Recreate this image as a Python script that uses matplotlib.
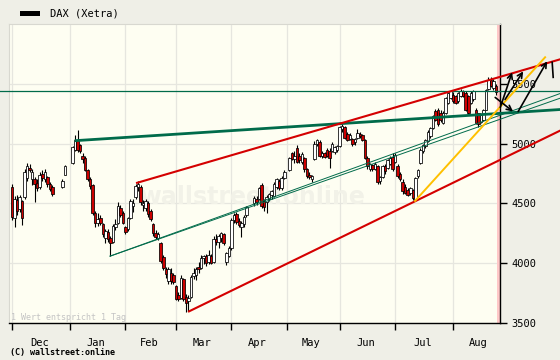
import numpy as np
import pandas as pd
import matplotlib
matplotlib.use("Agg")
import matplotlib.pyplot as plt
from matplotlib.patches import Rectangle

### DATA

first_day = "2008-12-01"
last_day = "2009-08-26"
# exchange holidays (weekdays without a candle, the slot stays empty)
holidays = ["2008-12-24", "2008-12-25", "2008-12-26", "2008-12-31",
            "2009-01-01", "2009-04-10", "2009-04-13", "2009-05-01"]

# daily OHLC, one line per month
opens = [
    4640, 4380, 4530, 4450, 4520, 4550, 4710, 4800, 4700, 4700, 4670, 4640, 4750, 4700, 4720, 4660, 4640, 4640, 4740,
    4840, 4950, 5030, 4990, 4900, 4880, 4780, 4700, 4650, 4420, 4340, 4380, 4330, 4210, 4260, 4210, 4180, 4300, 4340, 4460, 4420,
    4300, 4290, 4380, 4480, 4550, 4640, 4640, 4490, 4460, 4500, 4440, 4330, 4250, 4210, 4170, 4050, 3950, 3850, 3920, 3900,
    3810, 3730, 3710, 3870, 3720, 3680, 3720, 3890, 3900, 3970, 3960, 4040, 4060, 4010, 4060, 4010, 4200, 4180, 4210, 4240, 4010, 4060,
    4130, 4360, 4410, 4350, 4300, 4330, 4400, 4500, 4540, 4540, 4650, 4520, 4510, 4540, 4570, 4560, 4640, 4690, 4630, 4715,
    4780, 4920, 4870, 4960, 4900, 4850, 4880, 4790, 4740, 4700, 4870, 5000, 5010, 4900, 4920, 4950, 4940, 4940, 4930, 4950,
    4980, 5120, 5140, 5080, 5040, 5040, 5010, 5050, 5080, 5070, 5030, 4880, 4790, 4820, 4790, 4810, 4690, 4720, 4810, 4800, 4830, 4890,
    4850, 4810, 4750, 4680, 4640, 4610, 4585, 4610, 4530, 4725, 4840, 4935, 4980, 5020, 5060, 5130, 5270, 5285, 5260, 5175, 5260, 5340, 5385,
    5410, 5400, 5355, 5400, 5440, 5425, 5400, 5340, 5370, 5285, 5255, 5180, 5200, 5285, 5455, 5535, 5465, 5480,
]
highs = [
    4665, 4560, 4570, 4570, 4530, 4790, 4840, 4830, 4790, 4720, 4700, 4760, 4780, 4790, 4730, 4680, 4650, 4700, 4820,
    4980, 5070, 5110, 5000, 4920, 4900, 4790, 4720, 4660, 4440, 4420, 4400, 4340, 4290, 4290, 4230, 4330, 4370, 4510, 4490, 4440,
    4310, 4390, 4540, 4540, 4660, 4690, 4650, 4530, 4540, 4520, 4450, 4340, 4280, 4260, 4180, 4070, 3970, 3970, 3960, 3920,
    3820, 3760, 3900, 3880, 3740, 3730, 3900, 3960, 3970, 4010, 4070, 4070, 4080, 4110, 4080, 4230, 4240, 4240, 4260, 4250, 4095, 4140,
    4380, 4420, 4430, 4380, 4350, 4400, 4480, 4560, 4560, 4640, 4670, 4540, 4570, 4590, 4610, 4680, 4710, 4700, 4730, 4780,
    4890, 4930, 4940, 4990, 4920, 4930, 4890, 4800, 4760, 4740, 5020, 5040, 5030, 4940, 4930, 4960, 4960, 5010, 4980, 4990,
    5150, 5160, 5150, 5100, 5090, 5050, 5050, 5120, 5100, 5080, 5040, 4900, 4840, 4830, 4850, 4820, 4730, 4820, 4830, 4870, 4900, 4920,
    4920, 4830, 4760, 4700, 4660, 4630, 4640, 4620, 4720, 4790, 4960, 5000, 5040, 5110, 5140, 5240, 5290, 5300, 5280, 5270, 5390, 5430, 5450,
    5430, 5410, 5430, 5460, 5450, 5440, 5410, 5440, 5450, 5300, 5260, 5250, 5290, 5460, 5560, 5560, 5540, 5500,
]
lows = [
    4360, 4300, 4400, 4430, 4320, 4540, 4690, 4760, 4650, 4510, 4600, 4620, 4690, 4680, 4640, 4600, 4560, 4630, 4735,
    4830, 4940, 4930, 4920, 4840, 4770, 4690, 4620, 4400, 4300, 4310, 4320, 4220, 4170, 4180, 4060, 4170, 4280, 4330, 4390, 4330,
    4240, 4270, 4370, 4430, 4540, 4600, 4490, 4440, 4440, 4390, 4350, 4230, 4200, 4190, 4000, 3940, 3880, 3830, 3830, 3830,
    3690, 3680, 3700, 3680, 3590, 3600, 3710, 3870, 3860, 3920, 3950, 3990, 3980, 3990, 3990, 4000, 4150, 4130, 4180, 4150, 3985, 4050,
    4110, 4340, 4330, 4300, 4220, 4300, 4390, 4480, 4490, 4530, 4460, 4440, 4420, 4520, 4540, 4550, 4620, 4610, 4610, 4700,
    4770, 4860, 4840, 4840, 4840, 4830, 4760, 4710, 4700, 4680, 4860, 4980, 4890, 4880, 4880, 4890, 4800, 4930, 4910, 4930,
    4970, 5100, 5040, 5020, 5030, 4980, 4990, 5040, 5050, 5020, 4870, 4790, 4770, 4770, 4780, 4660, 4660, 4710, 4750, 4790, 4820, 4770,
    4840, 4710, 4690, 4580, 4580, 4560, 4570, 4530, 4520, 4710, 4830, 4920, 4960, 5010, 5050, 5120, 5190, 5150, 5180, 5160, 5250, 5330, 5370,
    5340, 5330, 5340, 5390, 5390, 5270, 5240, 5330, 5360, 5160, 5140, 5170, 5190, 5280, 5450, 5470, 5450, 5410,
]
closes = [
    4390, 4540, 4440, 4555, 4380, 4760, 4810, 4780, 4760, 4660, 4630, 4740, 4710, 4760, 4660, 4620, 4580, 4690, 4810,
    4970, 5030, 4950, 4937, 4872, 4783, 4705, 4645, 4422, 4336, 4367, 4334, 4241, 4270, 4200, 4170, 4310, 4330, 4480, 4400, 4338,
    4260, 4380, 4520, 4500, 4645, 4660, 4510, 4500, 4520, 4410, 4370, 4250, 4220, 4240, 4020, 3960, 3910, 3950, 3850, 3843,
    3700, 3700, 3880, 3700, 3670, 3710, 3886, 3915, 3954, 3953, 4044, 4061, 4002, 4070, 4000, 4200, 4180, 4225, 4250, 4170, 4085, 4130,
    4360, 4400, 4345, 4320, 4340, 4390, 4470, 4545, 4510, 4625, 4480, 4470, 4550, 4575, 4600, 4665, 4700, 4630, 4715, 4760,
    4880, 4870, 4900, 4850, 4860, 4910, 4790, 4725, 4720, 4730, 5000, 5030, 4900, 4920, 4890, 4900, 4880, 5000, 4970, 4980,
    5140, 5145, 5050, 5030, 5070, 5000, 5040, 5085, 5060, 5030, 4880, 4810, 4830, 4790, 4830, 4680, 4720, 4810, 4770, 4860, 4880, 4790,
    4905, 4725, 4700, 4600, 4590, 4570, 4625, 4545, 4710, 4780, 4950, 4990, 5030, 5100, 5130, 5230, 5200, 5160, 5200, 5255, 5380, 5420, 5440,
    5355, 5340, 5420, 5440, 5400, 5285, 5260, 5425, 5440, 5175, 5160, 5240, 5280, 5450, 5535, 5480, 5520, 5430,
]

months = ["Dec", "Jan", "Feb", "Mar", "Apr", "May", "Jun", "Jul", "Aug"]
price_ticks = [3500, 4000, 4500, 5000, 5500]

# drawn-in trend lines, x in weekday slots from 1 Dec, y in index points
green_thick = ([25.4, 217.5], [5025, 5285])
red_upper = ([49.6, 217.5], [4672, 5705])
red_lower = ([70.2, 217.5], [3597, 5109])
green_thin_a = ([38.9, 217.5], [4059, 5419])
green_thin_b = ([38.9, 217.5], [4059, 5380])
green_level = ([-4.8, 217.5], [5437, 5437])
yellow_line = ([159.9, 211.5], [4521, 5722])
# hand drawn forecast arrows: (start, end)
arrows = [((191.7, 5386), (198.8, 5268)),
          ((193.7, 5302), (198.4, 5596)),
          ((195.6, 5369), (202.8, 5604)),
          ((200.8, 5268), (212.3, 5688))]
arrow_tail = ([214.3, 214.7], [5680, 5554])

### PLOT

plt.rcParams['font.family'] = ['DejaVu Sans Mono']

all_days = pd.bdate_range(first_day, last_day)
trade_days = all_days[~all_days.isin(pd.to_datetime(holidays))]
xpos = all_days.get_indexer(trade_days)

month_starts = [i for i, d in enumerate(all_days) if i == 0 or d.month != all_days[i - 1].month]
month_mids = [(a + b) / 2 - 0.7 for a, b in zip(month_starts, month_starts[1:] + [month_starts[-1] + 21])]

fig = plt.figure(figsize=(5.6, 3.6), dpi=100, facecolor="#efefe7")
ax = fig.add_axes([9 / 560, 37 / 360, 491 / 560, 299 / 360])
ax.set_facecolor("#fefef2")
ax.set_xlim(-1.2, 193.6)
ax.set_ylim(3500, 6000)

# watermark
ax.text(0.495, 0.42, "wallstreet:online", transform=ax.transAxes, ha="center", va="center",
        fontsize=17, color="#f2f2e8", family="DejaVu Sans", fontweight="bold", zorder=1)

ax.axvspan(192.4, 193.6, color="#ffc8c8", lw=0, zorder=1)

# candles
for x, o, h, l, c in zip(xpos, opens, highs, lows, closes):
    ax.vlines(x, l, h, color="black", lw=0.8, zorder=3)
    fc = "white" if c >= o else "#cc0000"
    ax.add_patch(Rectangle((x - 0.5, min(o, c)), 1.0, max(abs(c - o), 4),
                           fc=fc, ec="black", lw=0.55, zorder=4))

# trend lines
ax.plot(*green_level, color="#006b4a", lw=0.9, clip_on=False, zorder=5)
ax.plot(*green_thin_a, color="#006b4a", lw=0.7, clip_on=False, zorder=5)
ax.plot(*green_thin_b, color="#006b4a", lw=0.7, clip_on=False, zorder=5)
ax.plot(*green_thick, color="#006b4a", lw=2.0, clip_on=False, zorder=5)
ax.plot(*red_upper, color="#d40000", lw=1.5, clip_on=False, zorder=5)
ax.plot(*red_lower, color="#d40000", lw=1.5, clip_on=False, zorder=5)
ax.plot(*yellow_line, color="#ffc000", lw=1.4, clip_on=False, zorder=5)

for start, end in arrows:
    ax.annotate("", xy=end, xytext=start, annotation_clip=False, zorder=6,
                arrowprops=dict(arrowstyle="->", color="black", lw=1.2,
                                shrinkA=0, shrinkB=0, mutation_scale=9))
ax.plot(*arrow_tail, color="black", lw=1.2, clip_on=False, zorder=6)

# axes
ax.set_xticks(month_starts)
ax.set_xticklabels([])
ax.set_xticks(month_mids, labels=months, minor=True)
ax.tick_params(axis="x", which="major", direction="out", length=5, width=1, color="black")
ax.tick_params(axis="x", which="minor", length=0, pad=11, labelsize=7.5)
ax.set_yticks(price_ticks)
ax.yaxis.tick_right()
ax.tick_params(axis="y", direction="out", length=5, width=1, labelsize=7.5, pad=3)
ax.grid(True, which="major", color="#e6e6df", lw=0.9)
ax.set_axisbelow(True)

for side in ["left", "top"]:
    ax.spines[side].set_color("#d8d8d0")
for side in ["right", "bottom"]:
    ax.spines[side].set_color("black")
    ax.spines[side].set_linewidth(1)

# legend and notes
fig.patches.append(Rectangle((20 / 560, 344 / 360), 20 / 560, 5 / 360, transform=fig.transFigure,
                             fc="black", ec="none"))
fig.text(50 / 560, 1 - 14 / 360, "DAX (Xetra)", fontsize=7.5, va="center")
fig.text(11 / 560, 1 - 318 / 360, "1 Wert entspricht 1 Tag", fontsize=6, color="#c4c4c4", va="center")
fig.text(10 / 560, 1 - 353 / 360, "(C) wallstreet:online", fontsize=6, fontweight="bold", va="center")

fig.savefig("out.png", dpi=100, facecolor=fig.get_facecolor())
